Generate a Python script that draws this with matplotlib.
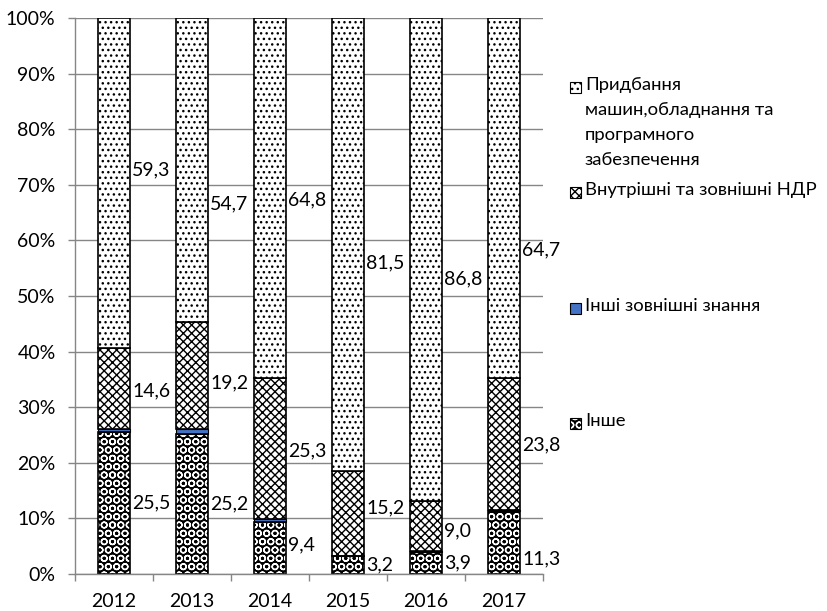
import matplotlib.pyplot as plt
from matplotlib.patches import Rectangle

plt.rcParams["font.family"] = ["Lato", "DejaVu Sans"]

years = ["2012", "2013", "2014", "2015", "2016", "2017"]
other = [25.5, 25.2, 9.4, 3.2, 3.9, 11.3]
other_external = [0.6, 0.9, 0.5, 0.1, 0.3, 0.2]
rnd = [14.6, 19.2, 25.3, 15.2, 9.0, 23.8]
machines = [59.3, 54.7, 64.8, 81.5, 86.8, 64.7]

# label nudges (percentage points) as placed in the original
other_shift = [0, 0, 0.5, 0, 0, -3.0]
rnd_shift = [-0.5, -1.3, -0.4, 1.0, -1.0, -0.2]
machines_shift = [2.4, -6.1, -0.3, -3.3, -3.5, -9.3]

legend_labels = [
    "Придбання\nмашин,обладнання та\nпрограмного\nзабезпечення",
    "Внутрішні та зовнішні НДР",
    "Інші зовнішні знання",
    "Інше",
]

GRAY = "#868686"
BLUE = "#4472C4"
FS = 14
LFS = 13.3

fig = plt.figure(figsize=(8.28, 6.11), dpi=100)
ax = fig.add_axes([75 / 828, 37 / 611, 468 / 828, 556 / 611])

x = list(range(len(years)))
w = 0.41

# stack bottoms
b1 = other
b2 = [a + b for a, b in zip(b1, other_external)]
b3 = [a + b for a, b in zip(b2, rnd)]

# Інше: black with white circles
ax.bar(x, other, w, color="black", edgecolor="white", hatch="OO", linewidth=0, zorder=3)
ax.bar(x, other, w, fill=False, edgecolor="black", linewidth=1.2, zorder=4)
ax.bar(x, other_external, w, bottom=b1, color=BLUE, edgecolor="black", linewidth=0.8, zorder=3)
ax.bar(x, rnd, w, bottom=b2, color="white", edgecolor="black", hatch="xxxx", linewidth=1.2, zorder=3)
ax.bar(x, machines, w, bottom=b3, color="white", edgecolor="black", hatch="...", linewidth=1.2, zorder=3)

lx = [i + w / 2 + 0.03 for i in x]
for i in x:
    ax.text(lx[i], other[i] / 2 + other_shift[i], f"{other[i]:.1f}".replace(".", ","),
            ha="left", va="center", fontsize=FS, zorder=5)
    ax.text(lx[i], b2[i] + rnd[i] / 2 + rnd_shift[i], f"{rnd[i]:.1f}".replace(".", ","),
            ha="left", va="center", fontsize=FS, zorder=5)
    ax.text(lx[i], b3[i] + machines[i] / 2 + machines_shift[i], f"{machines[i]:.1f}".replace(".", ","),
            ha="left", va="center", fontsize=FS, zorder=5)

ax.set_xlim(-0.5, len(years) - 0.5)
ax.set_ylim(0, 100)
ax.set_yticks(range(0, 101, 10))
ax.set_yticklabels([f"{v}%" for v in range(0, 101, 10)], fontsize=FS)
ax.set_xticks(x)
ax.set_xticklabels(years, fontsize=FS)
ax.set_xticks([i - 0.5 for i in range(len(years) + 1)], minor=True)
ax.tick_params(axis="x", which="major", length=0, pad=14)
ax.tick_params(axis="x", which="minor", length=5, color=GRAY, width=1)
ax.tick_params(axis="y", length=5, color=GRAY, width=1, pad=9)
ax.grid(axis="y", color=GRAY, linewidth=1, zorder=0)
ax.set_axisbelow(True)
for s in ["top", "right"]:
    ax.spines[s].set_visible(False)
for s in ["left", "bottom"]:
    ax.spines[s].set_color(GRAY)
    ax.spines[s].set_linewidth(1)
ax.spines["bottom"].set_zorder(6)


def fx(px):
    return px / 828


def fy(py):
    return 1 - py / 611


# legend drawn by hand, entries spread down the right side
entry_y = [87, 192, 308, 423]
styles = [
    dict(facecolor="white", edgecolor="black", hatch="..."),
    dict(facecolor="white", edgecolor="black", hatch="xxxx"),
    dict(facecolor=BLUE, edgecolor="black"),
    dict(facecolor="black", edgecolor="white", hatch="OO"),
]
for lab, ey, st in zip(legend_labels, entry_y, styles):
    r = Rectangle((fx(570), fy(ey + 6)), fx(11), 11 / 611, transform=fig.transFigure,
                  linewidth=0.8, **st)
    fig.add_artist(r)
    if st["edgecolor"] == "white":
        fig.add_artist(Rectangle((fx(570), fy(ey + 6)), fx(11), 11 / 611,
                                 transform=fig.transFigure, fill=False,
                                 edgecolor="black", linewidth=0.8))
    fig.text(fx(585), fy(ey - 10), lab, ha="left", va="top", fontsize=LFS, linespacing=1.7)

fig.savefig("out.png", dpi=100)
